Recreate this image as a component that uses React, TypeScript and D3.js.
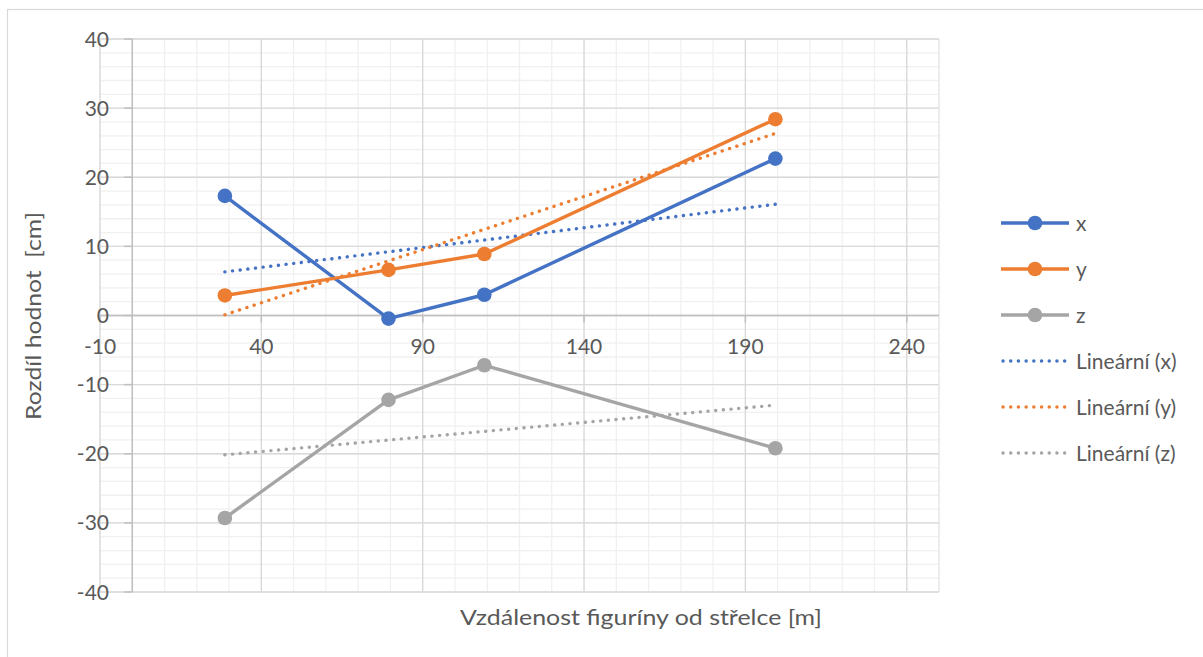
import React from "react";
import * as d3 from "d3";

const distances = [28.7, 79.4, 109.1, 199.3];
const seriesX = [17.3, -0.45, 3.0, 22.7];
const seriesY = [2.9, 6.6, 8.9, 28.4];
const seriesZ = [-29.3, -12.2, -7.2, -19.2];
const seriesNames = ["x", "y", "z"];
const seriesColors = ["#4472C4", "#ED7D31", "#A5A5A5"];
const xTicks = [-10, 40, 90, 140, 190, 240];
const yTicks = [40, 30, 20, 10, 0, -10, -20, -30, -40];
const legendLabels = ["x", "y", "z", "Lineární (x)", "Lineární (y)", "Lineární (z)"];

const W = 1203;
const H = 657;
const FONT = "Lato, 'Open Sans', sans-serif";
const TXT = "#595959";

function linReg(xs: number[], ys: number[]) {
  const mx = d3.mean(xs)!;
  const my = d3.mean(ys)!;
  let sxy = 0, sxx = 0;
  xs.forEach((x, i) => { sxy += (x - mx) * (ys[i] - my); sxx += (x - mx) * (x - mx); });
  const b = sxy / sxx;
  const a = my - b * mx;
  return (x: number) => a + b * x;
}

export default function App() {
  const left = 100, right = 939, top = 39, bottom = 592;
  const x = d3.scaleLinear().domain([-10, 250]).range([left, right]);
  const y = d3.scaleLinear().domain([-40, 40]).range([bottom, top]);
  const data = [seriesX, seriesY, seriesZ];

  const minorX = d3.range(-10, 250.001, 10);
  const majorX = d3.range(-10, 250.001, 50);
  const minorY = d3.range(-40, 40.001, 2);
  const majorY = d3.range(-40, 40.001, 10);

  const line = d3.line<[number, number]>().x(d => x(d[0])).y(d => y(d[1]));

  const dotted = { strokeDasharray: "0.1 7.6", strokeLinecap: "round" as const, strokeWidth: 3.4 };

  const legX = 1001, legLen = 68, legY0 = 223, legStep = 46;

  return (
    <svg width={W} height={H} style={{ position: "absolute", left: 0, top: 0 }} fontFamily={FONT}>
      <rect x={0} y={0} width={W} height={H} fill="#fff" />
      <rect x={7.5} y={9.5} width={1205} height={660} fill="none" stroke="#d9d9d9" strokeWidth={1.2} />
      {/* minor grid */}
      {minorY.map(v => (
        <line key={"my" + v} x1={left} x2={right} y1={y(v)} y2={y(v)} stroke="#f0f0f0" strokeWidth={1.3} />
      ))}
      {minorX.map(v => (
        <line key={"mx" + v} x1={x(v)} x2={x(v)} y1={top} y2={bottom} stroke="#f0f0f0" strokeWidth={1.3} />
      ))}
      {/* major grid */}
      {majorY.map(v => (
        <line key={"My" + v} x1={left} x2={right} y1={y(v)} y2={y(v)} stroke="#d9d9d9" strokeWidth={1.3} />
      ))}
      {majorX.map(v => (
        <line key={"Mx" + v} x1={x(v)} x2={x(v)} y1={top} y2={bottom} stroke="#d9d9d9" strokeWidth={1.3} />
      ))}
      <line x1={right} x2={right} y1={top} y2={bottom} stroke="#e6e6e6" strokeWidth={1.3} />
      {/* axes */}
      <line x1={x(0)} x2={x(0)} y1={top} y2={bottom} stroke="#bfbfbf" strokeWidth={1.5} />
      <line x1={left} x2={right} y1={y(0)} y2={y(0)} stroke="#bfbfbf" strokeWidth={1.5} />
      {yTicks.map(v => (
        <line key={"yt" + v} x1={x(0) - 8} x2={x(0)} y1={y(v)} y2={y(v)} stroke="#bfbfbf" strokeWidth={1.5} />
      ))}
      {xTicks.map(v => (
        <line key={"xt" + v} x1={x(v)} x2={x(v)} y1={y(0)} y2={y(0) + 7} stroke="#bfbfbf" strokeWidth={1.5} />
      ))}
      {yTicks.map(v => (
        <text key={"yl" + v} x={109} y={y(v)} dy="0.36em" textAnchor="end" fontSize={21} fill={TXT}>{v}</text>
      ))}
      {xTicks.map(v => (
        <text key={"xl" + v} x={x(v)} y={y(0) + 31} dy="0.36em" textAnchor="middle" fontSize={21} fill={TXT}>{v}</text>
      ))}
      {/* trendlines */}
      {data.map((vals, i) => {
        const f = linReg(distances, vals);
        const x0 = distances[0], x1 = distances[distances.length - 1];
        return (
          <path key={"tr" + i} d={line([[x0, f(x0)], [x1, f(x1)]])!} fill="none" stroke={seriesColors[i]} {...dotted} />
        );
      })}
      {/* series */}
      {data.map((vals, i) => (
        <g key={"s" + i}>
          <path d={line(distances.map((d, j) => [d, vals[j]] as [number, number]))!} fill="none" stroke={seriesColors[i]} strokeWidth={3.4} strokeLinejoin="round" />
          {distances.map((d, j) => (
            <circle key={j} cx={x(d)} cy={y(vals[j])} r={7.3} fill={seriesColors[i]} />
          ))}
        </g>
      ))}
      {/* axis titles */}
      <text x={0} y={0} transform={`translate(41,316) rotate(-90)`} textAnchor="middle" fontSize={21} fill={TXT} textLength={208} lengthAdjust="spacingAndGlyphs" style={{ whiteSpace: "pre" }}>{"Rozdíl hodnot  [cm]"}</text>
      <text x={641} y={617} dy="0.36em" textAnchor="middle" fontSize={22} fill={TXT} textLength={362} lengthAdjust="spacingAndGlyphs">Vzdálenost figuríny od střelce [m]</text>
      {/* legend */}
      {legendLabels.map((lab, i) => {
        const ly = legY0 + i * legStep;
        const c = seriesColors[i % 3];
        const isTrend = i >= 3;
        return (
          <g key={"lg" + i}>
            {isTrend ? (
              <line x1={legX + 2} x2={legX + legLen - 2} y1={ly} y2={ly} stroke={c} {...dotted} />
            ) : (
              <>
                <line x1={legX} x2={legX + legLen} y1={ly} y2={ly} stroke={c} strokeWidth={3.4} />
                <circle cx={legX + legLen / 2} cy={ly} r={7.3} fill={c} />
              </>
            )}
            <text x={1076} y={ly} dy="0.36em" fontSize={21} fill={TXT}>{lab}</text>
          </g>
        );
      })}
    </svg>
  );
}
